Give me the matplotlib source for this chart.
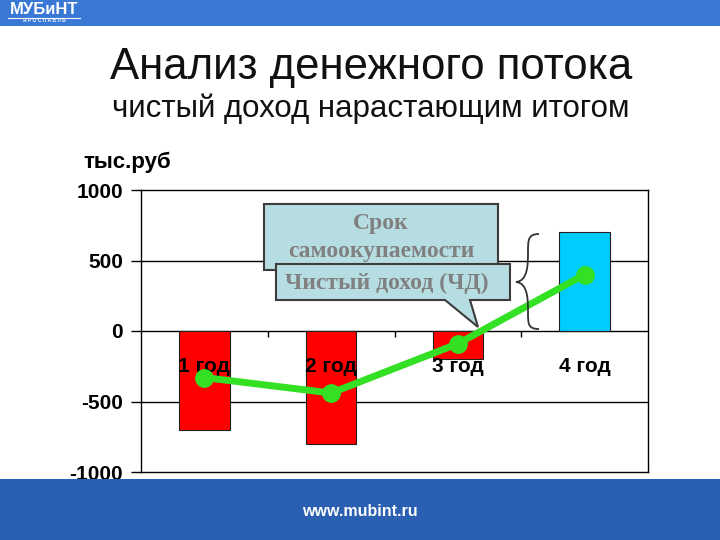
import numpy as np
import matplotlib.pyplot as plt
from matplotlib.patches import Rectangle, Polygon, PathPatch
from matplotlib.path import Path

# --- данные ---
years = ['1 год', '2 год', '3 год', '4 год']
bar_vals = [-700, -800, -200, 700]          # денежный поток по годам
cum_vals = [-330, -440, -90, 400]           # чистый доход нарастающим итогом
y_ticks = [-1000, -500, 0, 500, 1000]

plt.rcParams['font.family'] = ['Liberation Sans', 'DejaVu Sans']

fig = plt.figure(figsize=(7.2, 5.4), dpi=100)
fig.patch.set_facecolor('white')

# --- основная диаграмма ---
ax = fig.add_axes([141/720, 1-472/540, 507/720, 282/540])
x = np.arange(1, len(years) + 1)
colors = ['#FF0000' if v < 0 else '#00CCFF' for v in bar_vals]
ax.bar(x, bar_vals, width=0.4, color=colors, edgecolor='#202020', linewidth=0.8, zorder=2)
ax.plot(x, cum_vals, color='#33E023', lw=5, marker='o', ms=12.5, zorder=5)

ax.set_xlim(0.5, 4.5)
ax.set_ylim(-1000, 1000)
ax.set_yticks(y_ticks)
ax.set_yticklabels([str(v) for v in y_ticks], fontsize=15, fontweight='bold')
ax.tick_params(axis='y', length=7, width=1, pad=6)
ax.set_xticks([])
for yv in [-500, 0, 500]:
    ax.axhline(yv, color='black', lw=1, zorder=1)
ax.vlines([1.5, 2.5, 3.5], 0, -45, color='black', lw=1, zorder=3)
for xi, lab in zip(x, years):
    ax.text(xi, -250, lab, ha='center', va='center', fontsize=15,
            fontweight='bold', zorder=4)
for s in ax.spines.values():
    s.set_linewidth(1)
    s.set_color('black')

# --- оформление слайда (координаты в пикселях) ---
ov = fig.add_axes([0, 0, 1, 1], zorder=10)
ov.set_xlim(0, 720)
ov.set_ylim(540, 0)
ov.axis('off')
ov.patch.set_alpha(0)

ov.add_patch(Rectangle((0, 0), 720, 26, color='#3A78D5', lw=0))
ov.add_patch(Rectangle((0, 479), 720, 61, color='#2A5FB1', lw=0))
ov.text(360, 512, 'www.mubint.ru', color='white', fontsize=11.5, fontweight='bold',
        ha='center', va='center')
ov.text(44, 10, 'МУБиНТ', color='white', fontsize=12, fontweight='bold',
        ha='center', va='center')
ov.plot([8, 80], [17.5, 17.5], color='white', lw=0.8)
ov.text(44, 21, 'Я Р О С Л А В Л Ь', color='white', fontsize=3.5, fontweight='bold',
        ha='center', va='center')

ov.text(371, 67, 'Анализ денежного потока', fontsize=31.5, ha='center', va='center',
        color='#111111')
ov.text(371, 109, 'чистый доход нарастающим итогом', fontsize=22.5, ha='center',
        va='center', color='#111111')
ov.text(127, 162, 'тыс.руб', fontsize=16, fontweight='bold', ha='center', va='center')

# выноски
box_fc = '#B6DDE2'
box_ec = '#3C3C3C'
ov.add_patch(Rectangle((264, 204), 234, 66, fc=box_fc, ec=box_ec, lw=1.5))
ov.text(381, 223, 'Срок', family='Liberation Serif', fontsize=17, fontweight='bold',
        color='#808080', ha='center', va='center')
ov.text(381, 252, 'самоокупаемости', family='Liberation Serif', fontsize=17,
        fontweight='bold', color='#808080', ha='center', va='center')

ov.add_patch(Polygon([(276, 264), (510, 264), (510, 300), (470, 300), (478, 327),
                      (445, 300), (276, 300)], closed=True, fc=box_fc, ec=box_ec, lw=1.5))
ov.text(387, 283, 'Чистый доход (ЧД)', family='Liberation Serif', fontsize=17,
        fontweight='bold', color='#808080', ha='center', va='center')

# фигурная скобка
verts = [(539, 234), (528, 234), (528, 240), (528, 252),
         (528, 264), (528, 281), (516, 282),
         (528, 283), (528, 300), (528, 312),
         (528, 324), (528, 329), (539, 329)]
codes = [Path.MOVETO] + [Path.CURVE4] * 12
ov.add_patch(PathPatch(Path(verts, codes), fc='none', ec='#333333', lw=1.3))

fig.savefig('out.png', dpi=100)
